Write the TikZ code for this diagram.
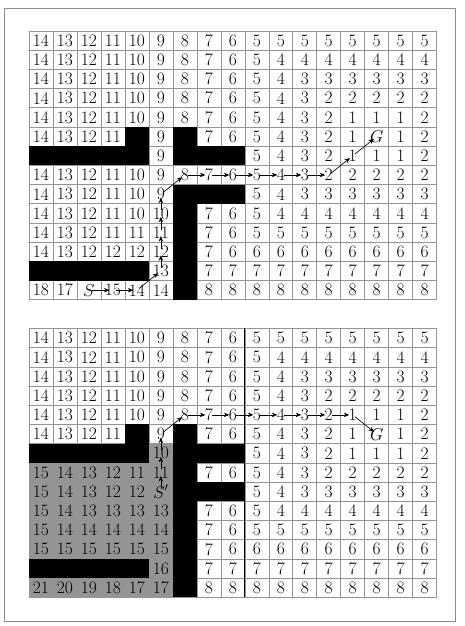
\documentclass[tikz,border=0pt]{standalone}
\usetikzlibrary{arrows.meta}
\begin{document}
\begin{tikzpicture}[x=1pt,y=1pt,
  gridline/.style={draw=black!42,line width=0.6pt},
  blk/.style={fill=black},
  gry/.style={fill=black!42},
  cell/.style={inner sep=0pt,font=\fontsize{17.5}{20}\selectfont},
  pth/.style={-{Stealth[length=5.5pt,width=4.5pt]},line width=0.65pt,shorten <=3pt,shorten >=3.5pt},
  frame/.style={draw=black!45,line width=0.8pt}
]
\def\X{}
\useasboundingbox (0,0) rectangle (464,626);
\draw[frame] (4,5) rectangle (455,618);

% ---------------- top grid ----------------
\begin{scope}[shift={(29,595)},x={(23.98pt,0)},y={(0,-19.2pt)}]
  \foreach \i in {0,...,17} \draw[gridline] (\i,0) -- (\i,14);
  \foreach \j in {0,...,14} \draw[gridline] (0,\j) -- (17,\j);
  \foreach \r/\c in {6/5,6/7,7/1,7/2,7/3,7/4,7/5,7/7,7/8,7/9,9/7,9/8,9/9,10/7,11/7,12/7,13/1,13/2,13/3,13/4,13/5,13/7,14/7}
    \fill[blk] (\c-1,\r-1) rectangle (\c,\r);
  \foreach \row [count=\r] in {
    {14,13,12,11,10,9,8,7,6,5,5,5,5,5,5,5,5},
    {14,13,12,11,10,9,8,7,6,5,4,4,4,4,4,4,4},
    {14,13,12,11,10,9,8,7,6,5,4,3,3,3,3,3,3},
    {14,13,12,11,10,9,8,7,6,5,4,3,2,2,2,2,2},
    {14,13,12,11,10,9,8,7,6,5,4,3,2,1,1,1,2},
    {14,13,12,11,\X,9,\X,7,6,5,4,3,2,1,$G$,1,2},
    {\X,\X,\X,\X,\X,9,\X,\X,\X,5,4,3,2,1,1,1,2},
    {14,13,12,11,10,9,8,7,6,5,4,3,2,2,2,2,2},
    {14,13,12,11,10,9,\X,\X,\X,5,4,3,3,3,3,3,3},
    {14,13,12,11,10,10,\X,7,6,5,4,4,4,4,4,4,4},
    {14,13,12,11,11,11,\X,7,6,5,5,5,5,5,5,5,5},
    {14,13,12,12,12,12,\X,7,6,6,6,6,6,6,6,6,6},
    {\X,\X,\X,\X,\X,13,\X,7,7,7,7,7,7,7,7,7,7},
    {18,17,$S$,15,14,14,\X,8,8,8,8,8,8,8,8,8,8}}
  {
    \foreach \v [count=\c] in \row
      \node[cell] (t-\r-\c) at (\c-0.5,\r-0.5) {\v};
  }
  \foreach \a/\b in {14-3/14-4,14-4/14-5,14-5/13-6,13-6/12-6,12-6/11-6,11-6/10-6,10-6/9-6,9-6/8-7,8-7/8-8,8-8/8-9,8-9/8-10,8-10/8-11,8-11/8-12,8-12/8-13,8-13/7-14,7-14/6-15}
    \draw[pth] (t-\a.center) -- (t-\b.center);
\end{scope}

% ---------------- bottom grid ----------------
\begin{scope}[shift={(29,297.5)},x={(23.98pt,0)},y={(0,-19.2pt)}]
  \foreach \r/\c in {7/6,8/1,8/2,8/3,8/4,8/5,8/6,9/1,9/2,9/3,9/4,9/5,9/6,10/1,10/2,10/3,10/4,10/5,10/6,11/1,11/2,11/3,11/4,11/5,11/6,12/1,12/2,12/3,12/4,12/5,12/6,13/6,14/1,14/2,14/3,14/4,14/5,14/6}
    \fill[gry] (\c-1,\r-1) rectangle (\c,\r);
  \foreach \i in {0,...,17} \draw[gridline] (\i,0) -- (\i,14);
  \foreach \j in {0,...,14} \draw[gridline] (0,\j) -- (17,\j);
  \draw[black,line width=0.7pt] (9,0) -- (9,14);
  \foreach \r/\c in {6/5,6/7,7/1,7/2,7/3,7/4,7/5,7/7,7/8,7/9,8/7,9/7,9/8,9/9,10/7,11/7,12/7,13/1,13/2,13/3,13/4,13/5,13/7,14/7}
    \fill[blk] (\c-1,\r-1) rectangle (\c,\r);
  \foreach \row [count=\r] in {
    {14,13,12,11,10,9,8,7,6,5,5,5,5,5,5,5,5},
    {14,13,12,11,10,9,8,7,6,5,4,4,4,4,4,4,4},
    {14,13,12,11,10,9,8,7,6,5,4,3,3,3,3,3,3},
    {14,13,12,11,10,9,8,7,6,5,4,3,2,2,2,2,2},
    {14,13,12,11,10,9,8,7,6,5,4,3,2,1,1,1,2},
    {14,13,12,11,\X,9,\X,7,6,5,4,3,2,1,$G$,1,2},
    {\X,\X,\X,\X,\X,10,\X,\X,\X,5,4,3,2,1,1,1,2},
    {15,14,13,12,11,11,\X,7,6,5,4,3,2,2,2,2,2},
    {15,14,13,12,12,$S'$,\X,\X,\X,5,4,3,3,3,3,3,3},
    {15,14,13,13,13,13,\X,7,6,5,4,4,4,4,4,4,4},
    {15,14,14,14,14,14,\X,7,6,5,5,5,5,5,5,5,5},
    {15,15,15,15,15,15,\X,7,6,6,6,6,6,6,6,6,6},
    {\X,\X,\X,\X,\X,16,\X,7,7,7,7,7,7,7,7,7,7},
    {21,20,19,18,17,17,\X,8,8,8,8,8,8,8,8,8,8}}
  {
    \foreach \v [count=\c] in \row
      \node[cell] (b-\r-\c) at (\c-0.5,\r-0.5) {\v};
  }
  \foreach \a/\b in {9-6/8-6,8-6/7-6,7-6/6-6,6-6/5-7,5-7/5-8,5-8/5-9,5-9/5-10,5-10/5-11,5-11/5-12,5-12/5-13,5-13/5-14,5-14/6-15}
    \draw[pth] (b-\a.center) -- (b-\b.center);
\end{scope}
\end{tikzpicture}
\end{document}
